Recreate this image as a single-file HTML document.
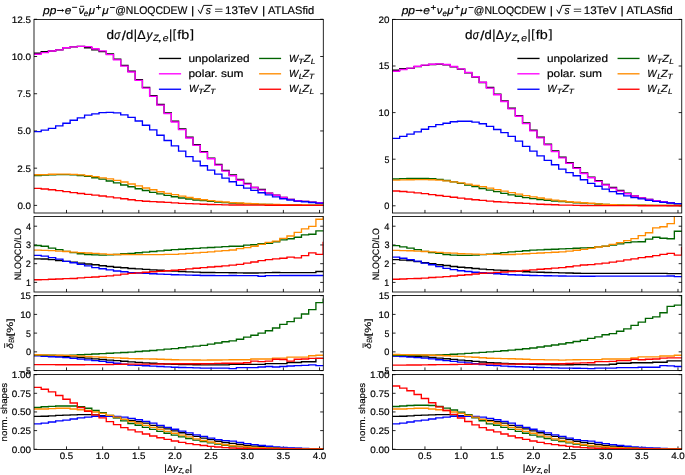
<!DOCTYPE html>
<html><head><meta charset="utf-8"><style>
html,body{margin:0;padding:0;background:#fff;width:685px;height:475px;overflow:hidden;}
svg{display:block;will-change:transform;text-rendering:geometricPrecision;font-family:"Liberation Sans", sans-serif;}
</style></head><body>
<svg width="685" height="475" viewBox="0 0 685 475" font-family='"Liberation Sans", sans-serif' fill="#000">
<rect width="685" height="475" fill="#fff"/>
<style>text{stroke:#000;stroke-width:0.18px}</style>
<clipPath id="c1"><rect x="34" y="19.5" width="289.3" height="193.5"/></clipPath>
<path d="M66.5,213V209.9M102.65,213V209.9M138.8,213V209.9M174.94,213V209.9M211.09,213V209.9M247.23,213V209.9M283.38,213V209.9M319.52,213V209.9M34,205.4H37.1M323.3,205.4H320.2M34,168.18H37.1M323.3,168.18H320.2M34,130.95H37.1M323.3,130.95H320.2M34,93.72H37.1M323.3,93.72H320.2M34,56.5H37.1M323.3,56.5H320.2M34,19.28H37.1M323.3,19.28H320.2" stroke="#000" stroke-width="0.85" fill="none"/>
<g clip-path="url(#c1)" fill="none" stroke-width="1.35" stroke-linejoin="miter">
<path d="M33,53.22H41.2V51.59H48.43V50.99H55.66V49.8H62.89V47.71H70.12V46.82H77.35V46.37H84.58V47.71H91.81V49.8H99.04V51.59H106.26V53.82H113.49V59.18H120.72V65.43H127.95V71.24H135.18V79.58H142.41V87.32H149.64V95.66H156.87V104.45H164.1V112.93H171.33V121.27H178.55V128.87H185.78V137.2H193.01V144.65H200.24V151.65H207.47V158.05H214.7V164.3H221.93V170.41H229.16V175.02H236.39V179.49H243.62V183.36H250.84V187.53H258.07V189.32H265.3V193.19H272.53V195.27H279.76V197.36H286.99V199.3H294.22V200.78H301.45V201.38H308.68V202.12H315.91V202.79H324.3" stroke="#000000"/>
<path d="M33,54.27H41.2V52.63H48.43V50.99H55.66V49.8H62.89V47.71H70.12V46.82H77.35V46.37H84.58V46.67H91.81V48.76H99.04V50.84H106.26V54.56H113.49V59.92H120.72V66.18H127.95V71.99H135.18V80.32H142.41V88.07H149.64V96.41H156.87V105.19H164.1V113.68H171.33V122.02H178.55V129.61H185.78V137.95H193.01V145.39H200.24V152.39H207.47V158.79H214.7V165.05H221.93V171.15H229.16V175.77H236.39V180.24H243.62V184.11H250.84V187.53H258.07V190.06H265.3V193.19H272.53V195.27H279.76V197.36H286.99V199.3H294.22V200.78H301.45V201.38H308.68V202.12H315.91V202.79H324.3" stroke="#ff00ff"/>
<path d="M33,131.69H41.2V130.06H48.43V128.42H55.66V125.89H62.89V123.21H70.12V120.23H77.35V117.85H84.58V115.17H91.81V113.83H99.04V112.64H106.26V112.34H113.49V112.93H120.72V114.87H127.95V117.4H135.18V120.97H142.41V125.29H149.64V129.91H156.87V135.27H164.1V140.48H171.33V145.84H178.55V151.05H185.78V156.56H193.01V161.18H200.24V165.79H207.47V170.11H214.7V174.13H221.93V178.15H229.16V181.72H236.39V185.3H243.62V188.13H250.84V190.36H258.07V192.74H265.3V194.83H272.53V196.91H279.76V198.7H286.99V200.04H294.22V201.08H301.45V201.75H308.68V202.5H315.91V203.17H324.3" stroke="#0000ff"/>
<path d="M33,175.47H41.2V175.17H48.43V174.73H55.66V174.58H62.89V174.58H70.12V174.88H77.35V175.47H84.58V176.22H91.81V177.7H99.04V179.19H106.26V180.98H113.49V182.92H120.72V185H127.95V186.79H135.18V188.72H142.41V190.51H149.64V192.3H156.87V193.93H164.1V195.42H171.33V196.76H178.55V197.96H185.78V199H193.01V200.04H200.24V200.64H207.47V201.38H214.7V201.98H221.93V202.57H229.16V203.02H236.39V203.46H243.62V203.76H250.84V204.06H258.07V204.36H265.3V204.51H272.53V204.66H279.76V204.8H286.99V204.95H294.22V204.95H301.45V205.1H308.68V205.1H315.91V205.25H324.3" stroke="#006400"/>
<path d="M33,174.73H41.2V174.58H48.43V174.28H55.66V174.13H62.89V174.13H70.12V174.43H77.35V174.88H84.58V175.62H91.81V176.66H99.04V177.85H106.26V178.9H113.49V180.38H120.72V182.02H127.95V183.96H135.18V185.89H142.41V187.98H149.64V189.77H156.87V191.7H164.1V193.34H171.33V194.68H178.55V196.17H185.78V197.51H193.01V198.7H200.24V199.74H207.47V200.64H214.7V201.38H221.93V201.98H229.16V202.57H236.39V203.02H243.62V203.46H250.84V203.76H258.07V204.06H265.3V204.36H272.53V204.51H279.76V204.66H286.99V204.8H294.22V204.95H301.45V204.95H308.68V205.1H315.91V205.1H324.3" stroke="#ff8c00"/>
<path d="M33,188.43H41.2V189.02H48.43V189.77H55.66V190.66H62.89V191.55H70.12V192.59H77.35V193.49H84.58V194.38H91.81V195.13H99.04V196.02H106.26V196.91H113.49V197.81H120.72V198.7H127.95V199.74H135.18V200.64H142.41V201.23H149.64V201.68H156.87V201.98H164.1V202.42H171.33V202.87H178.55V203.32H185.78V203.61H193.01V203.91H200.24V204.21H207.47V204.51H214.7V204.66H221.93V204.8H229.16V204.95H236.39V204.95H243.62V205.1H250.84V205.1H258.07V205.1H265.3V205.25H272.53V205.25H279.76V205.25H286.99V205.25H294.22V205.25H301.45V205.4H308.68V205.4H315.91V205.4H324.3" stroke="#ff0000"/>
</g>
<rect x="34" y="19.5" width="289.3" height="193.5" fill="none" stroke="#000" stroke-width="0.85"/>
<text transform="translate(17.38,208.79) scale(1.0480,1)" font-size="9.4">0.0</text>
<text transform="translate(17.28,171.57) scale(1.0496,1)" font-size="9.4">2.5</text>
<text transform="translate(17.47,134.34) scale(1.0408,1)" font-size="9.4">5.0</text>
<text transform="translate(17.37,97.12) scale(1.0422,1)" font-size="9.4">7.5</text>
<text transform="translate(11.66,59.89) scale(1.0606,1)" font-size="9.4">10.0</text>
<text transform="translate(11.67,22.67) scale(1.0561,1)" font-size="9.4">12.5</text>
<clipPath id="c2"><rect x="34" y="216.5" width="289.3" height="75.5"/></clipPath>
<path d="M66.5,292V288.9M102.65,292V288.9M138.8,292V288.9M174.94,292V288.9M211.09,292V288.9M247.23,292V288.9M283.38,292V288.9M319.52,292V288.9M34,282.4H37.1M323.3,282.4H320.2M34,263.67H37.1M323.3,263.67H320.2M34,244.94H37.1M323.3,244.94H320.2M34,226.21H37.1M323.3,226.21H320.2" stroke="#000" stroke-width="0.85" fill="none"/>
<g clip-path="url(#c2)" fill="none" stroke-width="1.35" stroke-linejoin="miter">
<path d="M33,258.8H41.2V258.99H48.43V259.55H55.66V260.49H62.89V261.42H70.12V262.17H77.35V263.11H84.58V264.04H91.81V264.79H99.04V265.73H106.26V266.48H113.49V267.23H120.72V267.79H127.95V268.45H135.18V268.91H142.41V269.38H149.64V269.85H156.87V270.29H164.1V270.72H171.33V271.16H178.55V271.49H185.78V271.82H193.01V272.15H200.24V272.47H207.47V272.54H214.7V272.6H221.93V272.66H229.16V272.79H236.39V272.91H243.62V273.03H250.84V273.03H258.07V272.85H265.3V272.66H272.53V272.47H279.76V272.57H286.99V272.66H294.22V272.66H301.45V272.66H308.68V272.66H315.91V271.54H324.3" stroke="#000000"/>
<path d="M33,255.43H41.2V256.18H48.43V257.68H55.66V259.17H62.89V261.42H70.12V262.73H77.35V264.42H84.58V265.92H91.81V267.6H99.04V268.73H106.26V269.85H113.49V270.97H120.72V271.72H127.95V272.66H135.18V273.03H142.41V273.41H149.64V273.78H156.87V274.1H164.1V274.41H171.33V274.72H178.55V274.91H185.78V275.1H193.01V275.28H200.24V275.47H207.47V275.53H214.7V275.59H221.93V275.66H229.16V275.47H236.39V275.66H243.62V275.66H250.84V275.66H258.07V276.22H265.3V275.66H272.53V275.66H279.76V275.47H286.99V275.47H294.22V275.47H301.45V275.47H308.68V275.47H315.91V275.47H324.3" stroke="#0000ff"/>
<path d="M33,245.5H41.2V246.25H48.43V248.12H55.66V249.62H62.89V251.31H70.12V252.62H77.35V253.74H84.58V254.49H91.81V254.87H99.04V255.05H106.26V254.87H113.49V254.49H120.72V253.74H127.95V253.37H135.18V252.74H142.41V252.12H149.64V251.5H156.87V250.87H164.1V250.25H171.33V249.62H178.55V249.2H185.78V248.78H193.01V248.36H200.24V247.94H207.47V247.5H214.7V247.06H221.93V246.63H229.16V246.25H236.39V246.25H243.62V245.13H250.84V244.75H258.07V243.63H265.3V243.25H272.53V241.76H279.76V239.88H286.99V238.76H294.22V237.26H301.45V234.83H308.68V234.26H315.91V230.89H324.3" stroke="#006400"/>
<path d="M33,250.18H41.2V250.37H48.43V250.56H55.66V251.12H62.89V251.5H70.12V252.06H77.35V252.62H84.58V252.99H91.81V253.37H99.04V253.93H106.26V254.3H113.49V254.49H120.72V254.49H127.95V254.59H135.18V254.62H142.41V254.65H149.64V254.68H156.87V254.55H164.1V254.43H171.33V254.3H178.55V253.84H185.78V253.37H193.01V252.9H200.24V252.43H207.47V251.81H214.7V251.18H221.93V250.56H229.16V250H236.39V248.69H243.62V247.56H250.84V246.25H258.07V244.38H265.3V242.32H272.53V241.19H279.76V238.38H286.99V235.95H294.22V232.39H301.45V228.83H308.68V226.4H315.91V219.28H323.13V207.48H324.3" stroke="#ff8c00"/>
<path d="M33,279.78H41.2V279.59H48.43V279.22H55.66V279.03H62.89V278.65H70.12V278.47H77.35V277.9H84.58V277.34H91.81V276.97H99.04V276.41H106.26V275.84H113.49V275.1H120.72V274.16H127.95V273.41H135.18V272.85H142.41V272.29H149.64V271.72H156.87V271.22H164.1V270.72H171.33V270.23H178.55V269.57H185.78V268.91H193.01V268.26H200.24V267.6H207.47V267.04H214.7V266.48H221.93V265.92H229.16V265.17H236.39V264.42H243.62V263.11H250.84V261.98H258.07V260.67H265.3V259.55H272.53V258.8H279.76V258.24H286.99V257.11H294.22V257.86H301.45V255.62H308.68V252.81H315.91V254.3H323.13V242.51H324.3" stroke="#ff0000"/>
</g>
<rect x="34" y="216.5" width="289.3" height="75.5" fill="none" stroke="#000" stroke-width="0.85"/>
<text transform="translate(25.9,285.79) scale(0.9468,1)" font-size="9.4">1</text>
<text transform="translate(25.81,267.06) scale(0.9674,1)" font-size="9.4">2</text>
<text transform="translate(25.99,248.33) scale(0.9670,1)" font-size="9.4">3</text>
<text transform="translate(25.9,229.6) scale(0.9839,1)" font-size="9.4">4</text>
<clipPath id="c3"><rect x="34" y="295.5" width="289.3" height="75"/></clipPath>
<path d="M66.5,370.5V367.4M102.65,370.5V367.4M138.8,370.5V367.4M174.94,370.5V367.4M211.09,370.5V367.4M247.23,370.5V367.4M283.38,370.5V367.4M319.52,370.5V367.4M34,370.58H37.1M323.3,370.58H320.2M34,351.85H37.1M323.3,351.85H320.2M34,333.12H37.1M323.3,333.12H320.2M34,314.4H37.1M323.3,314.4H320.2M34,295.68H37.1M323.3,295.68H320.2" stroke="#000" stroke-width="0.85" fill="none"/>
<g clip-path="url(#c3)" fill="none" stroke-width="1.35" stroke-linejoin="miter">
<path d="M33,355.37H41.2V355.6H48.43V355.82H55.66V356.04H62.89V356.27H70.12V356.91H77.35V357.54H84.58V358.18H91.81V358.82H99.04V359.45H106.26V360.06H113.49V360.67H120.72V361.28H127.95V361.89H135.18V362.35H142.41V362.81H149.64V363.27H156.87V363.63H164.1V364H171.33V364.36H178.55V364.49H185.78V364.62H193.01V364.75H200.24V364.88H207.47V364.88H214.7V364.88H221.93V364.88H229.16V364.36H236.39V364.36H243.62V364.36H250.84V364.36H258.07V364.36H265.3V363.68H272.53V363.68H279.76V363.68H286.99V362.49H294.22V362.49H301.45V361.7H308.68V361.7H315.91V358.44H324.3" stroke="#000000"/>
<path d="M33,355.74H41.2V356.22H48.43V356.7H55.66V357.18H62.89V357.65H70.12V358.4H77.35V359.14H84.58V359.88H91.81V360.62H99.04V361.36H106.26V362.29H113.49V363.22H120.72V364.14H127.95V365.07H135.18V365.43H142.41V365.79H149.64V366.16H156.87V366.53H164.1V366.9H171.33V367.28H178.55V367.48H185.78V367.67H193.01V367.87H200.24V368.07H207.47V368.07H214.7V368.07H221.93V368.07H229.16V368.55H236.39V367.58H243.62V367.58H250.84V367.58H258.07V366.98H265.3V366.49H272.53V366.98H279.76V366.49H286.99V366.01H294.22V365.67H301.45V365.33H308.68V364.88H315.91V365.67H324.3" stroke="#0000ff"/>
<path d="M33,355.07H41.2V355.15H48.43V355.22H55.66V355.3H62.89V355.37H70.12V355.07H77.35V354.77H84.58V354.4H91.81V354.02H99.04V353.65H106.26V353.25H113.49V352.86H120.72V352.47H127.95V352.07H135.18V351.54H142.41V351H149.64V350.46H156.87V349.83H164.1V349.19H171.33V348.55H178.55V347.75H185.78V346.94H193.01V346.14H200.24V345.33H207.47V344.15H214.7V342.96H221.93V341.78H229.16V340.84H236.39V339.23H243.62V337.13H250.84V335.22H258.07V333.12H265.3V330.73H272.53V328.03H279.76V324.32H286.99V321.63H294.22V318.11H301.45V313.95H308.68V309.61H315.91V302.68H323.13V299.05H324.3" stroke="#006400"/>
<path d="M33,354.77H41.2V354.92H48.43V355.07H55.66V355.22H62.89V355.37H70.12V355.74H77.35V356.12H84.58V356.49H91.81V356.87H99.04V357.24H106.26V357.58H113.49V357.92H120.72V358.25H127.95V358.59H135.18V358.72H142.41V358.84H149.64V358.97H156.87V359.23H164.1V359.49H171.33V359.75H178.55V359.83H185.78V359.9H193.01V359.98H200.24V360.05H207.47V360H214.7V359.95H221.93V359.9H229.16V359.71H236.39V359.71H243.62V359.71H250.84V358.97H258.07V358.97H265.3V358.97H272.53V358.14H279.76V358.14H286.99V357.13H294.22V357.13H301.45V357.13H308.68V355.74H315.91V355.22H324.3" stroke="#ff8c00"/>
<path d="M33,364.58H41.2V364.63H48.43V364.68H55.66V364.72H62.89V364.77H70.12V364.73H77.35V364.7H84.58V364.66H91.81V364.62H99.04V364.58H106.26V364.47H113.49V364.36H120.72V364.25H127.95V364.13H135.18V364.11H142.41V364.08H149.64V364.06H156.87V363.96H164.1V363.86H171.33V363.76H178.55V363.76H185.78V363.76H193.01V363.76H200.24V363.76H207.47V363.6H214.7V363.43H221.93V363.27H229.16V363.27H236.39V363.27H243.62V362.71H250.84V361.14H258.07V361.59H265.3V361.14H272.53V359.27H279.76V359.53H286.99V361.14H294.22V359.27H301.45V358.97H308.68V358.44H315.91V358.44H324.3" stroke="#ff0000"/>
</g>
<rect x="34" y="295.5" width="289.3" height="75" fill="none" stroke="#000" stroke-width="0.85"/>
<text transform="translate(18.6,374.62) scale(1.1980,1.0821)" font-size="9.4">−</text>
<text transform="translate(25.99,373.97) scale(0.9468,1)" font-size="9.4">5</text>
<text transform="translate(25.89,355.24) scale(0.9863,1)" font-size="9.4">0</text>
<text transform="translate(25.99,336.52) scale(0.9468,1)" font-size="9.4">5</text>
<text transform="translate(20.17,317.79) scale(1.0415,1)" font-size="9.4">10</text>
<text transform="translate(20.18,299.07) scale(1.0329,1)" font-size="9.4">15</text>
<clipPath id="c4"><rect x="34" y="374.5" width="289.3" height="75"/></clipPath>
<path d="M66.5,449.5V446.4M102.65,449.5V446.4M138.8,449.5V446.4M174.94,449.5V446.4M211.09,449.5V446.4M247.23,449.5V446.4M283.38,449.5V446.4M319.52,449.5V446.4M34,449.25H37.1M323.3,449.25H320.2M34,430.6H37.1M323.3,430.6H320.2M34,411.95H37.1M323.3,411.95H320.2M34,393.3H37.1M323.3,393.3H320.2M34,374.65H37.1M323.3,374.65H320.2" stroke="#000" stroke-width="0.85" fill="none"/>
<g clip-path="url(#c4)" fill="none" stroke-width="1.35" stroke-linejoin="miter">
<path d="M33,416.43H41.2V416.2H48.43V415.9H55.66V415.38H62.89V415.08H70.12V414.93H77.35V414.64H84.58V414.64H91.81V414.93H99.04V415.68H106.26V416.43H113.49V417.55H120.72V419.41H127.95V420.53H135.18V421.72H142.41V423.14H149.64V425.38H156.87V427.09H164.1V428.88H171.33V430.82H178.55V432.76H185.78V434.55H193.01V436.42H200.24V438.06H207.47V439.63H214.7V441.27H221.93V442.54H229.16V443.43H236.39V444.48H243.62V445.37H250.84V446.12H258.07V446.71H265.3V447.24H272.53V447.68H279.76V448.06H286.99V448.35H294.22V448.5H301.45V448.65H308.68V448.8H315.91V448.88H324.3" stroke="#000000"/>
<path d="M33,423.89H41.2V423.14H48.43V422.02H55.66V420.9H62.89V420.16H70.12V419.04H77.35V417.92H84.58V417.17H91.81V416.43H99.04V416.2H106.26V416.2H113.49V416.43H120.72V417.17H127.95V418.44H135.18V419.78H142.41V421.42H149.64V423.14H156.87V425.38H164.1V427.32H171.33V429.26H178.55V431.12H185.78V432.91H193.01V434.85H200.24V436.42H207.47V438.06H214.7V439.63H221.93V440.67H229.16V441.12H236.39V442.46H243.62V443.65H250.84V444.62H258.07V445.52H265.3V446.27H272.53V446.86H279.76V447.46H286.99V447.83H294.22V448.13H301.45V448.43H308.68V448.58H315.91V448.73H324.3" stroke="#0000ff"/>
<path d="M33,407.47H41.2V406.73H48.43V406.36H55.66V405.98H62.89V405.98H70.12V405.98H77.35V406.73H84.58V408.22H91.81V410.46H99.04V412.7H106.26V415.31H113.49V417.92H120.72V420.9H127.95V423.51H135.18V425.23H142.41V427.32H149.64V429.41H156.87V431.35H164.1V433.21H171.33V435.08H178.55V436.94H185.78V438.51H193.01V440.15H200.24V441.57H207.47V442.83H214.7V444.18H221.93V445.22H229.16V445.97H236.39V446.56H243.62V447.09H250.84V447.53H258.07V447.91H265.3V448.21H272.53V448.43H279.76V448.58H286.99V448.73H294.22V448.8H301.45V448.88H308.68V448.95H315.91V449.03H324.3" stroke="#006400"/>
<path d="M33,408.97H41.2V408.97H48.43V408.59H55.66V408.22H62.89V408.22H70.12V408.97H77.35V409.71H84.58V410.46H91.81V411.95H99.04V413.44H106.26V415.31H113.49V417.17H120.72V419.41H127.95V421.65H135.18V423.29H142.41V425.38H149.64V427.32H156.87V429.26H164.1V431.35H171.33V433.21H178.55V435.08H185.78V436.94H193.01V438.81H200.24V440.45H207.47V442.01H214.7V443.36H221.93V444.77H229.16V445.52H236.39V446.19H243.62V446.79H250.84V447.31H258.07V447.68H265.3V447.98H272.53V448.28H279.76V448.5H286.99V448.65H294.22V448.8H301.45V448.88H308.68V448.95H315.91V449.03H324.3" stroke="#ff8c00"/>
<path d="M33,387.33H41.2V389.2H48.43V391.81H55.66V395.54H62.89V399.27H70.12V403H77.35V407.47H84.58V411.2H91.81V414.93H99.04V417.92H106.26V421.65H113.49V424.63H120.72V427.62H127.95V429.85H135.18V431.94H142.41V434.03H149.64V435.97H156.87V437.76H164.1V439.33H171.33V440.97H178.55V442.31H185.78V443.65H193.01V444.62H200.24V445.52H207.47V446.34H214.7V447.01H221.93V447.68H229.16V447.98H236.39V448.21H243.62V448.43H250.84V448.58H258.07V448.73H265.3V448.8H272.53V448.88H279.76V448.95H286.99V449.03H294.22V449.03H301.45V449.1H308.68V449.1H315.91V449.1H324.3" stroke="#ff0000"/>
</g>
<rect x="34" y="374.5" width="289.3" height="75" fill="none" stroke="#000" stroke-width="0.85"/>
<text transform="translate(11.71,452.64) scale(1.0582,1)" font-size="9.4">0.00</text>
<text transform="translate(11.71,433.99) scale(1.0537,1)" font-size="9.4">0.25</text>
<text transform="translate(11.71,415.34) scale(1.0582,1)" font-size="9.4">0.50</text>
<text transform="translate(11.71,396.69) scale(1.0537,1)" font-size="9.4">0.75</text>
<text transform="translate(11.66,378.04) scale(1.0606,1)" font-size="9.4">1.00</text>
<text transform="translate(59.66,458.9) scale(1.0415,1)" font-size="9.4">0.5</text>
<text transform="translate(95.76,458.9) scale(1.0512,1)" font-size="9.4">1.0</text>
<text transform="translate(131.91,458.9) scale(1.0445,1)" font-size="9.4">1.5</text>
<text transform="translate(167.99,458.9) scale(1.0561,1)" font-size="9.4">2.0</text>
<text transform="translate(204.14,458.9) scale(1.0496,1)" font-size="9.4">2.5</text>
<text transform="translate(240.47,458.9) scale(1.0408,1)" font-size="9.4">3.0</text>
<text transform="translate(276.62,458.9) scale(1.0342,1)" font-size="9.4">3.5</text>
<text transform="translate(312.69,458.9) scale(1.0465,1)" font-size="9.4">4.0</text>
<text transform="translate(164.3,470.88) scale(1.0870,0.9935)" font-size="9.2">|</text>
<text transform="translate(167.03,470.8) scale(1.0666,1)" font-size="8.3">Δ</text>
<text transform="translate(172.88,470.8) scale(1.0795,1)" font-size="8.8" font-style="italic">y</text>
<text transform="translate(178.23,472.9) scale(0.8838,1)" font-size="7.2" font-style="italic">Z</text>
<text transform="translate(181.6,472.9) scale(1.3889,1)" font-size="7.2">,</text>
<text transform="translate(185.37,472.9) scale(1.0488,1)" font-size="7.2" font-style="italic">e</text>
<text transform="translate(189.5,470.88) scale(1.0870,0.9935)" font-size="9.2">|</text>
<text transform="translate(20.6,279.6) rotate(-90) translate(-0.71,0) scale(0.9521,1)" font-size="9.3">NLOQCD/LO</text>
<text transform="translate(6.8,440.7) rotate(-90) translate(-0.68,0) scale(1.0896,1)" font-size="8.9">norm. shapes</text>
<text transform="translate(12.9,348.5) rotate(-90) translate(-0.3,0) scale(1.1628,1)" font-size="8.6" font-style="italic">δ</text>
<path d="M4.6,343.3L4.6,348" stroke="#000" stroke-width="0.8" fill="none"/>
<text transform="translate(13.7,342.4) rotate(-90) translate(-0.12,0) scale(0.5454,1)" font-size="7.4" font-style="italic">EW</text>
<text transform="translate(12.9,335.4) rotate(-90) translate(-0.87,0) scale(1.3981,1)" font-size="8.9">[%]</text>
<text transform="translate(43.04,13.8) scale(1.0909,1)" font-size="11" font-style="italic">pp</text>
<path d="M57.1,10.45H63" stroke="#000" stroke-width="1.0" fill="none"/>
<path d="M61.8,8.4Q62.7,9.9 64.3,10.45Q62.7,11.0 61.8,12.5Q62.5,10.45 61.8,8.4Z" fill="#000"/>
<text transform="translate(64.74,13.8) scale(1.0946,1)" font-size="11" font-style="italic">e</text>
<path d="M72,7.35H77.1" stroke="#000" stroke-width="0.9" fill="none"/>
<text transform="translate(78.42,13.8) scale(1.0537,1)" font-size="11" font-style="italic">ν</text>
<path d="M80,6.3L84.1,6.3" stroke="#000" stroke-width="0.85" fill="none"/>
<text transform="translate(83.86,16) scale(0.9706,1)" font-size="8.2" font-style="italic">e</text>
<text transform="translate(88.73,13.8) scale(1.0413,1)" font-size="11" font-style="italic">μ</text>
<path d="M96,7.5H101.1M98.55,5V9.7" stroke="#000" stroke-width="0.9" fill="none"/>
<text transform="translate(102.13,13.8) scale(1.0579,1)" font-size="11" font-style="italic">μ</text>
<path d="M110,7.5H114.9" stroke="#000" stroke-width="0.9" fill="none"/>
<text transform="translate(115.26,13.8) scale(0.9491,1)" font-size="11">@NLOQCDEW</text>
<text transform="translate(191.07,13.72) scale(1.1364,0.9873)" font-size="11">|</text>
<path d="M198.1,9.7L200.5,13.7L203.6,5.4H212.3" stroke="#000" stroke-width="0.95" fill="none" stroke-linejoin="miter"/>
<text transform="translate(205.8,13.8) scale(0.9284,1)" font-size="11" font-style="italic">s</text>
<text transform="translate(214.57,13.33) scale(1.3258,0.7670)" font-size="11">=</text>
<text transform="translate(225.07,13.8) scale(1.0579,1)" font-size="11">13TeV</text>
<text transform="translate(261.88,13.72) scale(1.1364,0.9873)" font-size="11">|</text>
<text transform="translate(268,13.8) scale(1.0116,1)" font-size="11">ATLASfid</text>
<text transform="translate(106.46,38.6) scale(1.0590,1)" font-size="12.8">d</text>
<text transform="translate(114.29,38.6) scale(0.8073,1)" font-size="12.8" font-style="italic">σ</text>
<text transform="translate(121.75,39.67) scale(1.1579,1.0274)" font-size="12.8">/</text>
<text transform="translate(126.08,38.6) scale(1.0243,1)" font-size="12.8">d</text>
<text transform="translate(133.78,38.72) scale(0.9766,1.0333)" font-size="12.8">|</text>
<text transform="translate(137.32,38.6) scale(0.9862,1)" font-size="12.8">Δ</text>
<text transform="translate(146.38,38.6) scale(0.9115,1)" font-size="12.8" font-style="italic">y</text>
<text transform="translate(153.18,40.7) scale(0.9717,1)" font-size="9.2" font-style="italic">Z</text>
<text transform="translate(157.37,40.7) scale(1.8478,1)" font-size="9.2">,</text>
<text transform="translate(162.69,40.7) scale(1.1313,1)" font-size="9.2" font-style="italic">e</text>
<text transform="translate(168.97,38.72) scale(0.9766,1.0333)" font-size="12.8">|</text>
<text transform="translate(172.86,37.77) scale(0.9375,0.9409)" font-size="12.8">[</text>
<text transform="translate(177.26,38.6) scale(1.1218,1)" font-size="12.8">fb</text>
<text transform="translate(190.17,37.77) scale(1.0547,0.9409)" font-size="12.8">]</text>
<path d="M158.9,58.45H181.1" stroke="#000000" stroke-width="1.35"/>
<path d="M158.9,73.8H181.1" stroke="#ff00ff" stroke-width="1.35"/>
<path d="M158.9,89.25H181.1" stroke="#0000ff" stroke-width="1.35"/>
<path d="M259.1,58.45H281.1" stroke="#006400" stroke-width="1.35"/>
<path d="M259.1,73.8H281.1" stroke="#ff8c00" stroke-width="1.35"/>
<path d="M259.1,89.25H281.1" stroke="#ff0000" stroke-width="1.35"/>
<text transform="translate(188.49,61.9) scale(1.1243,1)" font-size="10.5">unpolarized</text>
<text transform="translate(188.48,77) scale(1.1369,1)" font-size="10.5">polar. sum</text>
<text transform="translate(188.91,92) scale(0.9604,1)" font-size="10.3" font-style="italic">W</text>
<text transform="translate(198.21,93.8) scale(1.1570,1)" font-size="7.6" font-style="italic">T</text>
<text transform="translate(203.82,92) scale(1.0591,1)" font-size="10.3" font-style="italic">Z</text>
<text transform="translate(210.26,93.8) scale(1.0889,1)" font-size="7.6" font-style="italic">T</text>
<text transform="translate(288.91,61.9) scale(0.9604,1)" font-size="10.3" font-style="italic">W</text>
<text transform="translate(298.21,63.7) scale(1.1570,1)" font-size="7.6" font-style="italic">T</text>
<text transform="translate(303.82,61.9) scale(1.0591,1)" font-size="10.3" font-style="italic">Z</text>
<text transform="translate(310.75,63.7) scale(1.0819,1)" font-size="7.6" font-style="italic">L</text>
<text transform="translate(288.91,77) scale(0.9604,1)" font-size="10.3" font-style="italic">W</text>
<text transform="translate(298.75,78.8) scale(1.0819,1)" font-size="7.6" font-style="italic">L</text>
<text transform="translate(302.62,77) scale(1.0591,1)" font-size="10.3" font-style="italic">Z</text>
<text transform="translate(309.06,78.8) scale(1.0889,1)" font-size="7.6" font-style="italic">T</text>
<text transform="translate(288.91,92) scale(0.9604,1)" font-size="10.3" font-style="italic">W</text>
<text transform="translate(298.75,93.8) scale(1.0819,1)" font-size="7.6" font-style="italic">L</text>
<text transform="translate(302.62,92) scale(1.0591,1)" font-size="10.3" font-style="italic">Z</text>
<text transform="translate(309.55,93.8) scale(1.0819,1)" font-size="7.6" font-style="italic">L</text>
<clipPath id="c5"><rect x="392.45" y="19.5" width="289.3" height="193.5"/></clipPath>
<path d="M424.95,213V209.9M461.1,213V209.9M497.25,213V209.9M533.39,213V209.9M569.54,213V209.9M605.68,213V209.9M641.83,213V209.9M677.97,213V209.9M392.45,205.8H395.55M681.75,205.8H678.65M392.45,159.2H395.55M681.75,159.2H678.65M392.45,112.6H395.55M681.75,112.6H678.65M392.45,66H395.55M681.75,66H678.65M392.45,19.4H395.55M681.75,19.4H678.65" stroke="#000" stroke-width="0.85" fill="none"/>
<g clip-path="url(#c5)" fill="none" stroke-width="1.35" stroke-linejoin="miter">
<path d="M391.45,70.29H399.65V68.61H406.88V68.33H414.11V66.56H421.34V65.35H428.57V64.51H435.8V64.14H443.03V64.79H450.26V66.75H457.49V69.17H464.71V72.8H471.94V77H479.17V82.5H486.4V87.53H493.63V94.05H500.86V100.86H508.09V108.22H515.32V115.58H522.55V122.95H529.78V130.21H537V137.2H544.23V144.19H551.46V150.91H558.69V157.24H565.92V162.74H573.15V167.77H580.38V172.81H587.61V177.09H594.84V180.73H602.07V184.36H609.29V187.53H616.52V190.52H623.75V193.12H630.98V196.01H638.21V197.88H645.44V199.37H652.67V200.67H659.9V201.79H667.13V202.82H674.36V203.66H682.75" stroke="#000000"/>
<path d="M391.45,71.22H399.65V69.54H406.88V68.05H414.11V66.28H421.34V65.07H428.57V64.23H435.8V63.86H443.03V64.51H450.26V66.47H457.49V68.89H464.71V72.52H471.94V76.72H479.17V82.22H486.4V88.18H493.63V94.71H500.86V101.51H508.09V108.87H515.32V116.23H522.55V123.6H529.78V130.87H537V137.86H544.23V144.85H551.46V151.56H558.69V157.9H565.92V163.39H573.15V168.43H580.38V173.46H587.61V177.75H594.84V181.38H602.07V185.02H609.29V188.19H616.52V191.17H623.75V193.78H630.98V196.01H638.21V197.88H645.44V199.37H652.67V200.67H659.9V201.79H667.13V202.82H674.36V203.66H682.75" stroke="#ff00ff"/>
<path d="M391.45,138.32H399.65V136.37H406.88V134.13H414.11V131.8H421.34V129.28H428.57V126.67H435.8V124.62H443.03V123.22H450.26V121.73H457.49V121.27H464.71V121.27H471.94V122.11H479.17V123.78H486.4V126.3H493.63V129.47H500.86V132.64H508.09V136.37H515.32V141.12H522.55V146.34H529.78V151.18H537V155.84H544.23V160.41H551.46V164.79H558.69V169.08H565.92V172.62H573.15V175.79H580.38V179.7H587.61V183.34H594.84V186.23H602.07V189.12H609.29V191.63H616.52V193.78H623.75V195.83H630.98V197.6H638.21V198.9H645.44V200.21H652.67V201.42H659.9V202.26H667.13V203H674.36V203.75H682.75" stroke="#0000ff"/>
<path d="M391.45,178.96H399.65V178.68H406.88V178.49H414.11V178.49H421.34V178.49H428.57V178.77H435.8V179.42H443.03V180.45H450.26V181.85H457.49V183.34H464.71V185.11H471.94V186.69H479.17V188.46H486.4V190.05H493.63V191.63H500.86V193.4H508.09V194.8H515.32V196.29H522.55V197.6H529.78V198.62H537V199.46H544.23V200.21H551.46V200.95H558.69V201.51H565.92V202.07H573.15V202.72H580.38V203.1H587.61V203.56H594.84V204.03H602.07V204.4H609.29V204.77H616.52V204.96H623.75V205.05H630.98V205.15H638.21V205.24H645.44V205.33H652.67V205.43H659.9V205.43H667.13V205.52H674.36V205.52H682.75" stroke="#006400"/>
<path d="M391.45,180.08H399.65V179.89H406.88V179.7H414.11V179.61H421.34V179.61H428.57V179.7H435.8V180.08H443.03V180.92H450.26V181.85H457.49V182.87H464.71V184.08H471.94V185.39H479.17V186.69H486.4V188.19H493.63V189.68H500.86V191.17H508.09V192.66H515.32V194.06H522.55V195.55H529.78V196.85H537V197.97H544.23V199.09H551.46V200.11H558.69V200.95H565.92V201.7H573.15V202.26H580.38V202.72H587.61V203.28H594.84V203.84H602.07V204.31H609.29V204.68H616.52V204.87H623.75V204.96H630.98V205.05H638.21V205.15H645.44V205.24H652.67V205.33H659.9V205.33H667.13V205.43H674.36V205.43H682.75" stroke="#ff8c00"/>
<path d="M391.45,190.98H399.65V191.45H406.88V192.1H414.11V192.85H421.34V193.68H428.57V194.62H435.8V195.45H443.03V196.39H450.26V197.23H457.49V198.06H464.71V199H471.94V199.74H479.17V200.39H486.4V201.14H493.63V201.7H500.86V202.07H508.09V202.63H515.32V203H522.55V203.38H529.78V203.94H537V204.22H544.23V204.5H551.46V204.77H558.69V205.05H565.92V205.15H573.15V205.33H580.38V205.52H587.61V205.57H594.84V205.61H602.07V205.61H609.29V205.61H616.52V205.61H623.75V205.66H630.98V205.66H638.21V205.71H645.44V205.71H652.67V205.71H659.9V205.71H667.13V205.71H674.36V205.71H682.75" stroke="#ff0000"/>
</g>
<rect x="392.45" y="19.5" width="289.3" height="193.5" fill="none" stroke="#000" stroke-width="0.85"/>
<text transform="translate(384.34,209.19) scale(0.9863,1)" font-size="9.4">0</text>
<text transform="translate(384.44,162.59) scale(0.9468,1)" font-size="9.4">5</text>
<text transform="translate(378.62,115.99) scale(1.0415,1)" font-size="9.4">10</text>
<text transform="translate(378.63,69.39) scale(1.0329,1)" font-size="9.4">15</text>
<text transform="translate(378.56,22.79) scale(1.0479,1)" font-size="9.4">20</text>
<clipPath id="c6"><rect x="392.45" y="216.5" width="289.3" height="75.5"/></clipPath>
<path d="M424.95,292V288.9M461.1,292V288.9M497.25,292V288.9M533.39,292V288.9M569.54,292V288.9M605.68,292V288.9M641.83,292V288.9M677.97,292V288.9M392.45,282.4H395.55M681.75,282.4H678.65M392.45,263.67H395.55M681.75,263.67H678.65M392.45,244.94H395.55M681.75,244.94H678.65M392.45,226.21H395.55M681.75,226.21H678.65" stroke="#000" stroke-width="0.85" fill="none"/>
<g clip-path="url(#c6)" fill="none" stroke-width="1.35" stroke-linejoin="miter">
<path d="M391.45,259.55H399.65V260.11H406.88V260.49H414.11V261.61H421.34V262.73H428.57V263.67H435.8V264.79H443.03V265.54H450.26V266.48H457.49V267.23H464.71V267.79H471.94V268.54H479.17V269.1H486.4V269.66H493.63V270.1H500.86V270.54H508.09V270.97H515.32V271.35H522.55V271.72H529.78V272.1H537V272.29H544.23V272.47H551.46V272.66H558.69V272.85H565.92V273.03H573.15V273.22H580.38V273.41H587.61V273.41H594.84V273.41H602.07V273.41H609.29V273.41H616.52V273.41H623.75V273.41H630.98V273.41H638.21V273.41H645.44V273.41H652.67V273.41H659.9V273.41H667.13V273.6H674.36V273.6H682.75" stroke="#000000"/>
<path d="M391.45,257.11H399.65V258.24H406.88V259.55H414.11V261.05H421.34V263.11H428.57V264.79H435.8V266.67H443.03V268.35H450.26V269.66H457.49V270.79H464.71V271.54H471.94V272.29H479.17V272.66H486.4V273.32H493.63V273.78H500.86V274.25H508.09V274.72H515.32V274.97H522.55V275.22H529.78V275.47H537V275.61H544.23V275.75H551.46V275.89H558.69V276.03H565.92V276.09H573.15V276.16H580.38V276.22H587.61V276.2H594.84V276.19H602.07V276.17H609.29V276.16H616.52V276.14H623.75V276.13H630.98V276.11H638.21V276.09H645.44V276.08H652.67V276.06H659.9V276.05H667.13V276.03H674.36V276.59H682.75" stroke="#0000ff"/>
<path d="M391.45,245.69H399.65V246.81H406.88V248.12H414.11V249.62H421.34V251.31H428.57V252.62H435.8V253.37H443.03V254.49H450.26V255.05H457.49V255.43H464.71V255.43H471.94V255.05H479.17V254.68H486.4V254.21H493.63V253.43H500.86V252.65H508.09V251.87H515.32V251.31H522.55V250.75H529.78V250.18H537V249.86H544.23V249.53H551.46V249.2H558.69V248.87H565.92V248.56H573.15V248.25H580.38V247.94H587.61V247.56H594.84V246.81H602.07V246.25H609.29V245.13H616.52V243.82H623.75V242.69H630.98V241.94H638.21V241.76H645.44V239.13H652.67V237.26H659.9V238.2H667.13V238.76H674.36V231.27H682.75" stroke="#006400"/>
<path d="M391.45,250.37H399.65V250.56H406.88V250.75H414.11V251.12H421.34V251.5H428.57V251.87H435.8V252.43H443.03V252.81H450.26V253.18H457.49V253.74H464.71V253.93H471.94V254.12H479.17V254.3H486.4V254.4H493.63V254.43H500.86V254.46H508.09V254.49H515.32V254.12H522.55V253.74H529.78V253.37H537V252.99H544.23V252.62H551.46V252.24H558.69V251.87H565.92V251.06H573.15V250.25H580.38V249.44H587.61V248.31H594.84V247H602.07V246.06H609.29V244.38H616.52V242.69H623.75V240.63H630.98V238.57H638.21V235.57H645.44V232.77H652.67V227.9H659.9V226.77H667.13V223.59H674.36V213.1H682.75" stroke="#ff8c00"/>
<path d="M391.45,279.22H399.65V279.03H406.88V278.65H414.11V278.47H421.34V278.09H428.57V277.53H435.8V277.16H443.03V276.59H450.26V276.03H457.49V275.28H464.71V274.72H471.94V273.97H479.17V273.22H486.4V272.85H493.63V272.41H500.86V271.97H508.09V271.54H515.32V270.97H522.55V270.41H529.78V269.85H537V269.29H544.23V268.73H551.46V268.17H558.69V267.6H565.92V266.73H573.15V265.86H580.38V264.98H587.61V264.61H594.84V263.86H602.07V263.11H609.29V262.17H616.52V261.05H623.75V259.92H630.98V258.8H638.21V257.68H645.44V256.74H652.67V255.62H659.9V254.3H667.13V253.37H674.36V255.05H681.58V247.75H682.75" stroke="#ff0000"/>
</g>
<rect x="392.45" y="216.5" width="289.3" height="75.5" fill="none" stroke="#000" stroke-width="0.85"/>
<text transform="translate(384.35,285.79) scale(0.9468,1)" font-size="9.4">1</text>
<text transform="translate(384.26,267.06) scale(0.9674,1)" font-size="9.4">2</text>
<text transform="translate(384.44,248.33) scale(0.9670,1)" font-size="9.4">3</text>
<text transform="translate(384.35,229.6) scale(0.9839,1)" font-size="9.4">4</text>
<clipPath id="c7"><rect x="392.45" y="295.5" width="289.3" height="75"/></clipPath>
<path d="M424.95,370.5V367.4M461.1,370.5V367.4M497.25,370.5V367.4M533.39,370.5V367.4M569.54,370.5V367.4M605.68,370.5V367.4M641.83,370.5V367.4M677.97,370.5V367.4M392.45,370.58H395.55M681.75,370.58H678.65M392.45,351.85H395.55M681.75,351.85H678.65M392.45,333.12H395.55M681.75,333.12H678.65M392.45,314.4H395.55M681.75,314.4H678.65M392.45,295.68H395.55M681.75,295.68H678.65" stroke="#000" stroke-width="0.85" fill="none"/>
<g clip-path="url(#c7)" fill="none" stroke-width="1.35" stroke-linejoin="miter">
<path d="M391.45,355.74H399.65V356.03H406.88V356.31H414.11V356.59H421.34V356.87H428.57V357.5H435.8V358.14H443.03V358.78H450.26V359.41H457.49V360.05H464.71V360.7H471.94V361.34H479.17V361.99H486.4V362.64H493.63V363.01H500.86V363.38H508.09V363.76H515.32V363.96H522.55V364.16H529.78V364.36H537V364.49H544.23V364.62H551.46V364.75H558.69V364.88H565.92V364.78H573.15V364.68H580.38V364.58H587.61V364.88H594.84V364.88H602.07V364.88H609.29V364.21H616.52V363.27H623.75V363.27H630.98V362.75H638.21V362.75H645.44V362.75H652.67V362.22H659.9V362.22H667.13V360.88H674.36V360.88H682.75" stroke="#000000"/>
<path d="M391.45,356.04H399.65V356.57H406.88V357.09H414.11V357.62H421.34V358.14H428.57V358.94H435.8V359.74H443.03V360.55H450.26V361.35H457.49V362.15H464.71V362.93H471.94V363.7H479.17V364.48H486.4V365.26H493.63V365.66H500.86V366.06H508.09V366.46H515.32V366.73H522.55V367H529.78V367.28H537V367.48H544.23V367.67H551.46V367.87H558.69V368.07H565.92V368.15H573.15V368.24H580.38V368.33H587.61V368.55H594.84V368.07H602.07V368.07H609.29V368.07H616.52V367.58H623.75V367.58H630.98V367.58H638.21V367.28H645.44V367.28H652.67V367.28H659.9V365.67H667.13V365.93H674.36V366.49H682.75" stroke="#0000ff"/>
<path d="M391.45,355.22H399.65V355.22H406.88V355.22H414.11V355.22H421.34V355.22H428.57V355.09H435.8V354.96H443.03V354.58H450.26V354.21H457.49V353.83H464.71V353.35H471.94V352.86H479.17V352.37H486.4V351.89H493.63V351.31H500.86V350.74H508.09V350.16H515.32V349.45H522.55V348.74H529.78V348.03H537V347.03H544.23V346.03H551.46V345.02H558.69V344.02H565.92V342.76H573.15V341.5H580.38V340.24H587.61V338.44H594.84V336.83H602.07V334.74H609.29V333.61H616.52V331.22H623.75V328.82H630.98V325.3H638.21V322.11H645.44V318.41H652.67V316.8H659.9V312.79H667.13V306.39H674.36V305.07H681.58V291.93H682.75" stroke="#006400"/>
<path d="M391.45,354.47H399.65V354.59H406.88V354.71H414.11V354.84H421.34V354.96H428.57V355.24H435.8V355.51H443.03V355.79H450.26V356.07H457.49V356.34H464.71V356.81H471.94V357.28H479.17V357.75H486.4V358.22H493.63V358.39H500.86V358.57H508.09V358.74H515.32V359.02H522.55V359.29H529.78V359.56H537V359.69H544.23V359.81H551.46V359.93H558.69V360.05H565.92V359.89H573.15V359.73H580.38V359.56H587.61V359.56H594.84V359.56H602.07V358.97H609.29V358.97H616.52V358.97H623.75V358.97H630.98V357.95H638.21V356.87H645.44V356.87H652.67V356.87H659.9V356.04H667.13V356.04H674.36V355.22H682.75" stroke="#ff8c00"/>
<path d="M391.45,365.18H399.65V365.11H406.88V365.03H414.11V364.96H421.34V364.88H428.57V364.78H435.8V364.67H443.03V364.57H450.26V364.46H457.49V364.36H464.71V364.25H471.94V364.13H479.17V364.02H486.4V363.91H493.63V363.96H500.86V364.01H508.09V364.06H515.32V363.96H522.55V363.86H529.78V363.76H537V363.76H544.23V363.76H551.46V363.76H558.69V363.76H565.92V363.47H573.15V363.18H580.38V362.9H587.61V362.75H594.84V361.66H602.07V361.66H609.29V361.4H616.52V360.58H623.75V360.58H630.98V359.27H638.21V359.71H645.44V359.27H652.67V358.97H659.9V358.14H667.13V357.84H674.36V357.84H682.75" stroke="#ff0000"/>
</g>
<rect x="392.45" y="295.5" width="289.3" height="75" fill="none" stroke="#000" stroke-width="0.85"/>
<text transform="translate(377.05,374.62) scale(1.1980,1.0821)" font-size="9.4">−</text>
<text transform="translate(384.44,373.97) scale(0.9468,1)" font-size="9.4">5</text>
<text transform="translate(384.34,355.24) scale(0.9863,1)" font-size="9.4">0</text>
<text transform="translate(384.44,336.52) scale(0.9468,1)" font-size="9.4">5</text>
<text transform="translate(378.62,317.79) scale(1.0415,1)" font-size="9.4">10</text>
<text transform="translate(378.63,299.07) scale(1.0329,1)" font-size="9.4">15</text>
<clipPath id="c8"><rect x="392.45" y="374.5" width="289.3" height="75"/></clipPath>
<path d="M424.95,449.5V446.4M461.1,449.5V446.4M497.25,449.5V446.4M533.39,449.5V446.4M569.54,449.5V446.4M605.68,449.5V446.4M641.83,449.5V446.4M677.97,449.5V446.4M392.45,449.25H395.55M681.75,449.25H678.65M392.45,430.6H395.55M681.75,430.6H678.65M392.45,411.95H395.55M681.75,411.95H678.65M392.45,393.3H395.55M681.75,393.3H678.65M392.45,374.65H395.55M681.75,374.65H678.65" stroke="#000" stroke-width="0.85" fill="none"/>
<g clip-path="url(#c8)" fill="none" stroke-width="1.35" stroke-linejoin="miter">
<path d="M391.45,416.43H399.65V416.2H406.88V415.9H414.11V415.38H421.34V415.08H428.57V414.93H435.8V414.64H443.03V414.64H450.26V414.93H457.49V415.68H464.71V416.43H471.94V417.55H479.17V419.41H486.4V420.53H493.63V421.72H500.86V423.14H508.09V425.38H515.32V427.09H522.55V428.88H529.78V430.82H537V432.76H544.23V434.55H551.46V436.42H558.69V438.06H565.92V439.63H573.15V441.27H580.38V442.54H587.61V443.43H594.84V444.48H602.07V445.37H609.29V446.12H616.52V446.71H623.75V447.24H630.98V447.68H638.21V448.06H645.44V448.35H652.67V448.5H659.9V448.65H667.13V448.8H674.36V448.88H682.75" stroke="#000000"/>
<path d="M391.45,423.89H399.65V423.14H406.88V422.02H414.11V420.9H421.34V420.16H428.57V419.04H435.8V417.92H443.03V417.17H450.26V416.43H457.49V416.2H464.71V416.2H471.94V416.43H479.17V417.17H486.4V418.44H493.63V419.78H500.86V421.42H508.09V423.14H515.32V425.38H522.55V427.32H529.78V429.26H537V431.12H544.23V432.91H551.46V434.85H558.69V436.42H565.92V438.06H573.15V439.63H580.38V440.67H587.61V441.12H594.84V442.46H602.07V443.65H609.29V444.62H616.52V445.52H623.75V446.27H630.98V446.86H638.21V447.46H645.44V447.83H652.67V448.13H659.9V448.43H667.13V448.58H674.36V448.73H682.75" stroke="#0000ff"/>
<path d="M391.45,406.5H399.65V405.98H406.88V405.53H414.11V405.24H421.34V405.24H428.57V405.53H435.8V406.5H443.03V408.07H450.26V410.01H457.49V412.1H464.71V414.78H471.94V417.55H479.17V420.75H486.4V423.89H493.63V425.23H500.86V427.32H508.09V429.41H515.32V431.35H522.55V433.21H529.78V435.08H537V436.94H544.23V438.51H551.46V440.15H558.69V441.57H565.92V442.83H573.15V444.18H580.38V445.22H587.61V445.97H594.84V446.56H602.07V447.09H609.29V447.53H616.52V447.91H623.75V448.21H630.98V448.43H638.21V448.58H645.44V448.73H652.67V448.8H659.9V448.88H667.13V448.95H674.36V449.03H682.75" stroke="#006400"/>
<path d="M391.45,408.97H399.65V408.97H406.88V408.59H414.11V408.22H421.34V408.22H428.57V408.97H435.8V409.71H443.03V410.46H450.26V411.95H457.49V413.44H464.71V415.31H471.94V417.17H479.17V419.41H486.4V421.65H493.63V423.29H500.86V425.38H508.09V427.32H515.32V429.26H522.55V431.35H529.78V433.21H537V435.08H544.23V436.94H551.46V438.81H558.69V440.45H565.92V442.01H573.15V443.36H580.38V444.77H587.61V445.52H594.84V446.19H602.07V446.79H609.29V447.31H616.52V447.68H623.75V447.98H630.98V448.28H638.21V448.5H645.44V448.65H652.67V448.8H659.9V448.88H667.13V448.95H674.36V449.03H682.75" stroke="#ff8c00"/>
<path d="M391.45,385.99H399.65V388.08H406.88V390.76H414.11V394.49H421.34V398.52H428.57V402.77H435.8V406.8H443.03V410.46H450.26V414.34H457.49V417.99H464.71V421.5H471.94V424.93H479.17V427.62H486.4V430H493.63V431.94H500.86V434.03H508.09V435.97H515.32V437.76H522.55V439.33H529.78V440.97H537V442.31H544.23V443.65H551.46V444.62H558.69V445.52H565.92V446.34H573.15V447.01H580.38V447.68H587.61V447.98H594.84V448.21H602.07V448.43H609.29V448.58H616.52V448.73H623.75V448.8H630.98V448.88H638.21V448.95H645.44V449.03H652.67V449.03H659.9V449.1H667.13V449.1H674.36V449.1H682.75" stroke="#ff0000"/>
</g>
<rect x="392.45" y="374.5" width="289.3" height="75" fill="none" stroke="#000" stroke-width="0.85"/>
<text transform="translate(370.16,452.64) scale(1.0582,1)" font-size="9.4">0.00</text>
<text transform="translate(370.16,433.99) scale(1.0537,1)" font-size="9.4">0.25</text>
<text transform="translate(370.16,415.34) scale(1.0582,1)" font-size="9.4">0.50</text>
<text transform="translate(370.16,396.69) scale(1.0537,1)" font-size="9.4">0.75</text>
<text transform="translate(370.11,378.04) scale(1.0606,1)" font-size="9.4">1.00</text>
<text transform="translate(418.11,458.9) scale(1.0415,1)" font-size="9.4">0.5</text>
<text transform="translate(454.21,458.9) scale(1.0512,1)" font-size="9.4">1.0</text>
<text transform="translate(490.36,458.9) scale(1.0445,1)" font-size="9.4">1.5</text>
<text transform="translate(526.44,458.9) scale(1.0561,1)" font-size="9.4">2.0</text>
<text transform="translate(562.59,458.9) scale(1.0496,1)" font-size="9.4">2.5</text>
<text transform="translate(598.92,458.9) scale(1.0408,1)" font-size="9.4">3.0</text>
<text transform="translate(635.07,458.9) scale(1.0342,1)" font-size="9.4">3.5</text>
<text transform="translate(671.14,458.9) scale(1.0465,1)" font-size="9.4">4.0</text>
<text transform="translate(522.75,470.88) scale(1.0870,0.9935)" font-size="9.2">|</text>
<text transform="translate(525.48,470.8) scale(1.0666,1)" font-size="8.3">Δ</text>
<text transform="translate(531.33,470.8) scale(1.0795,1)" font-size="8.8" font-style="italic">y</text>
<text transform="translate(536.68,472.9) scale(0.8838,1)" font-size="7.2" font-style="italic">Z</text>
<text transform="translate(540.05,472.9) scale(1.3889,1)" font-size="7.2">,</text>
<text transform="translate(543.82,472.9) scale(1.0488,1)" font-size="7.2" font-style="italic">e</text>
<text transform="translate(547.95,470.88) scale(1.0870,0.9935)" font-size="9.2">|</text>
<text transform="translate(379.05,279.6) rotate(-90) translate(-0.71,0) scale(0.9521,1)" font-size="9.3">NLOQCD/LO</text>
<text transform="translate(365.25,440.7) rotate(-90) translate(-0.68,0) scale(1.0896,1)" font-size="8.9">norm. shapes</text>
<text transform="translate(371.35,348.5) rotate(-90) translate(-0.3,0) scale(1.1628,1)" font-size="8.6" font-style="italic">δ</text>
<path d="M363.05,343.3L363.05,348" stroke="#000" stroke-width="0.8" fill="none"/>
<text transform="translate(372.15,342.4) rotate(-90) translate(-0.12,0) scale(0.5454,1)" font-size="7.4" font-style="italic">EW</text>
<text transform="translate(371.35,335.4) rotate(-90) translate(-0.87,0) scale(1.3981,1)" font-size="8.9">[%]</text>
<text transform="translate(401.64,13.8) scale(1.0909,1)" font-size="11" font-style="italic">pp</text>
<path d="M415.7,10.45H421.6" stroke="#000" stroke-width="1.0" fill="none"/>
<path d="M420.4,8.4Q421.3,9.9 422.9,10.45Q421.3,11.0 420.4,12.5Q421.1,10.45 420.4,8.4Z" fill="#000"/>
<text transform="translate(423.34,13.8) scale(1.0946,1)" font-size="11" font-style="italic">e</text>
<path d="M430.9,7.5H435.9M433.4,5.1V9.7" stroke="#000" stroke-width="0.9" fill="none"/>
<text transform="translate(436.84,13.8) scale(1.0124,1)" font-size="11" font-style="italic">ν</text>
<text transform="translate(442.46,16) scale(0.9706,1)" font-size="8.2" font-style="italic">e</text>
<text transform="translate(447.33,13.8) scale(1.0413,1)" font-size="11" font-style="italic">μ</text>
<path d="M454.6,7.5H459.7M457.15,5V9.7" stroke="#000" stroke-width="0.9" fill="none"/>
<text transform="translate(460.73,13.8) scale(1.0579,1)" font-size="11" font-style="italic">μ</text>
<path d="M468.6,7.5H473.5" stroke="#000" stroke-width="0.9" fill="none"/>
<text transform="translate(473.86,13.8) scale(0.9491,1)" font-size="11">@NLOQCDEW</text>
<text transform="translate(549.67,13.72) scale(1.1364,0.9873)" font-size="11">|</text>
<path d="M556.7,9.7L559.1,13.7L562.2,5.4H570.9" stroke="#000" stroke-width="0.95" fill="none" stroke-linejoin="miter"/>
<text transform="translate(564.4,13.8) scale(0.9284,1)" font-size="11" font-style="italic">s</text>
<text transform="translate(573.17,13.33) scale(1.3258,0.7670)" font-size="11">=</text>
<text transform="translate(583.67,13.8) scale(1.0579,1)" font-size="11">13TeV</text>
<text transform="translate(620.48,13.72) scale(1.1364,0.9873)" font-size="11">|</text>
<text transform="translate(626.6,13.8) scale(1.0116,1)" font-size="11">ATLASfid</text>
<text transform="translate(464.96,38.6) scale(1.0590,1)" font-size="12.8">d</text>
<text transform="translate(472.79,38.6) scale(0.8073,1)" font-size="12.8" font-style="italic">σ</text>
<text transform="translate(480.25,39.67) scale(1.1579,1.0274)" font-size="12.8">/</text>
<text transform="translate(484.58,38.6) scale(1.0243,1)" font-size="12.8">d</text>
<text transform="translate(492.27,38.72) scale(0.9766,1.0333)" font-size="12.8">|</text>
<text transform="translate(495.82,38.6) scale(0.9862,1)" font-size="12.8">Δ</text>
<text transform="translate(504.88,38.6) scale(0.9115,1)" font-size="12.8" font-style="italic">y</text>
<text transform="translate(511.68,40.7) scale(0.9717,1)" font-size="9.2" font-style="italic">Z</text>
<text transform="translate(515.87,40.7) scale(1.8478,1)" font-size="9.2">,</text>
<text transform="translate(521.19,40.7) scale(1.1313,1)" font-size="9.2" font-style="italic">e</text>
<text transform="translate(527.48,38.72) scale(0.9766,1.0333)" font-size="12.8">|</text>
<text transform="translate(531.36,37.77) scale(0.9375,0.9409)" font-size="12.8">[</text>
<text transform="translate(535.76,38.6) scale(1.1218,1)" font-size="12.8">fb</text>
<text transform="translate(548.66,37.77) scale(1.0547,0.9409)" font-size="12.8">]</text>
<path d="M517.35,58.45H539.55" stroke="#000000" stroke-width="1.35"/>
<path d="M517.35,73.8H539.55" stroke="#ff00ff" stroke-width="1.35"/>
<path d="M517.35,89.25H539.55" stroke="#0000ff" stroke-width="1.35"/>
<path d="M617.55,58.45H639.55" stroke="#006400" stroke-width="1.35"/>
<path d="M617.55,73.8H639.55" stroke="#ff8c00" stroke-width="1.35"/>
<path d="M617.55,89.25H639.55" stroke="#ff0000" stroke-width="1.35"/>
<text transform="translate(546.94,61.9) scale(1.1243,1)" font-size="10.5">unpolarized</text>
<text transform="translate(546.93,77) scale(1.1369,1)" font-size="10.5">polar. sum</text>
<text transform="translate(547.36,92) scale(0.9604,1)" font-size="10.3" font-style="italic">W</text>
<text transform="translate(556.66,93.8) scale(1.1570,1)" font-size="7.6" font-style="italic">T</text>
<text transform="translate(562.27,92) scale(1.0591,1)" font-size="10.3" font-style="italic">Z</text>
<text transform="translate(568.71,93.8) scale(1.0889,1)" font-size="7.6" font-style="italic">T</text>
<text transform="translate(647.36,61.9) scale(0.9604,1)" font-size="10.3" font-style="italic">W</text>
<text transform="translate(656.66,63.7) scale(1.1570,1)" font-size="7.6" font-style="italic">T</text>
<text transform="translate(662.27,61.9) scale(1.0591,1)" font-size="10.3" font-style="italic">Z</text>
<text transform="translate(669.2,63.7) scale(1.0819,1)" font-size="7.6" font-style="italic">L</text>
<text transform="translate(647.36,77) scale(0.9604,1)" font-size="10.3" font-style="italic">W</text>
<text transform="translate(657.2,78.8) scale(1.0819,1)" font-size="7.6" font-style="italic">L</text>
<text transform="translate(661.07,77) scale(1.0591,1)" font-size="10.3" font-style="italic">Z</text>
<text transform="translate(667.51,78.8) scale(1.0889,1)" font-size="7.6" font-style="italic">T</text>
<text transform="translate(647.36,92) scale(0.9604,1)" font-size="10.3" font-style="italic">W</text>
<text transform="translate(657.2,93.8) scale(1.0819,1)" font-size="7.6" font-style="italic">L</text>
<text transform="translate(661.07,92) scale(1.0591,1)" font-size="10.3" font-style="italic">Z</text>
<text transform="translate(668,93.8) scale(1.0819,1)" font-size="7.6" font-style="italic">L</text>
</svg>
</body></html>
